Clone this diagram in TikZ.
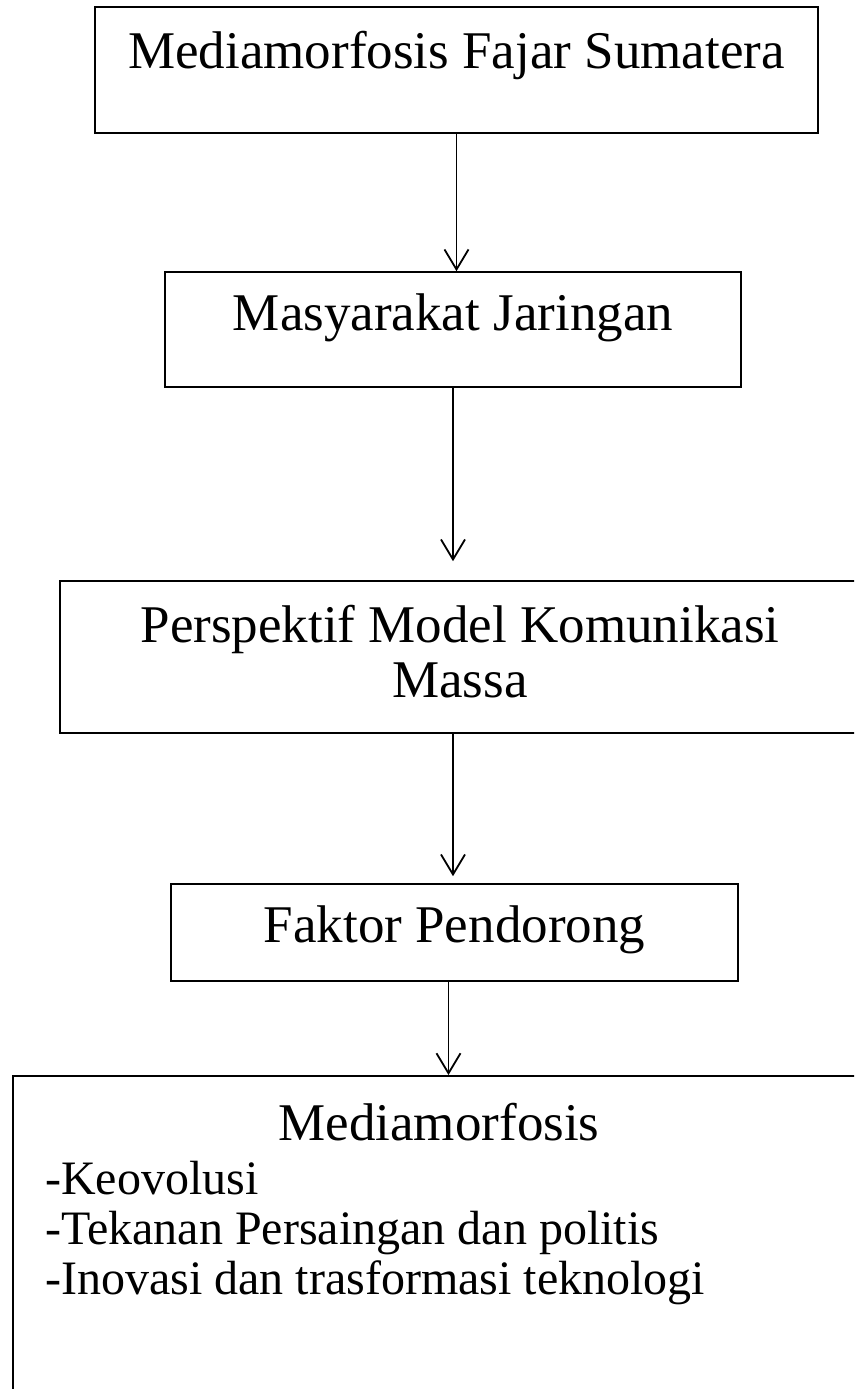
\documentclass[tikz,border=0pt]{standalone}
\usepackage{fontspec}
\setmainfont{Liberation Serif}
\usetikzlibrary{positioning,arrows.meta}

\begin{document}
\begin{tikzpicture}[x=1pt, y=-1pt,
  box/.style={rectangle, draw, line width=1.6pt, inner sep=0pt,
    align=center, text height=37pt, text depth=12pt,
    font=\fontsize{53}{55}\selectfont},
  listtext/.style={inner sep=0pt, align=left, anchor=base west,
    font=\fontsize{48}{50}\selectfont},
  every edge/.style={draw, line width=1.8pt,
    -{Straight Barb[length=20pt, width=24pt, line width=1.8pt]}},
]
  \path[use as bounding box, clip] (0,0) rectangle (854,1389);

  % === boxes, top to bottom ===
  \node[box, minimum width=723pt, minimum height=126pt, text depth=41pt]
    (source) at (456.5,70) {Mediamorfosis Fajar Sumatera};
  \node[box, minimum width=576pt, minimum height=115pt, text depth=36pt]
    (network) at (453,329.5) {Masyarakat Jaringan};
  \node[box, minimum width=800pt, minimum height=152pt, text height=92pt, text depth=12pt]
    (model) at (460,657) {Perspektif Model Komunikasi\\Massa};
  \node[box, minimum width=567pt, minimum height=97pt, text depth=18pt]
    (factor) at (454.5,932.5) {Faktor Pendorong};
  \node[box, anchor=north west, minimum width=860pt, minimum height=400pt]
    (mediabox) at (12,1075) {};

  % === contents of the last box ===
  \node[inner sep=0pt, anchor=base, font=\fontsize{53}{55}\selectfont]
    (mediatitle) at (439,1140) {Mediamorfosis};
  \node[listtext] (items) at (45,1294)
    {-Keovolusi\\-Tekanan Persaingan dan politis\\-Inovasi dan trasformasi teknologi};

  % === arrows ===
  \path (source.south)  edge (source.south |- network.north);
  \path (network.south) edge[shorten >=19pt] (network.south |- model.north);
  \path ([xshift=-7pt]model.south) edge[shorten >=7pt] ([xshift=-7pt]model.south |- factor.north);
  \path ([xshift=-6pt]factor.south) edge ([xshift=-6pt]factor.south |- mediabox.north);

\end{tikzpicture}
\end{document}
